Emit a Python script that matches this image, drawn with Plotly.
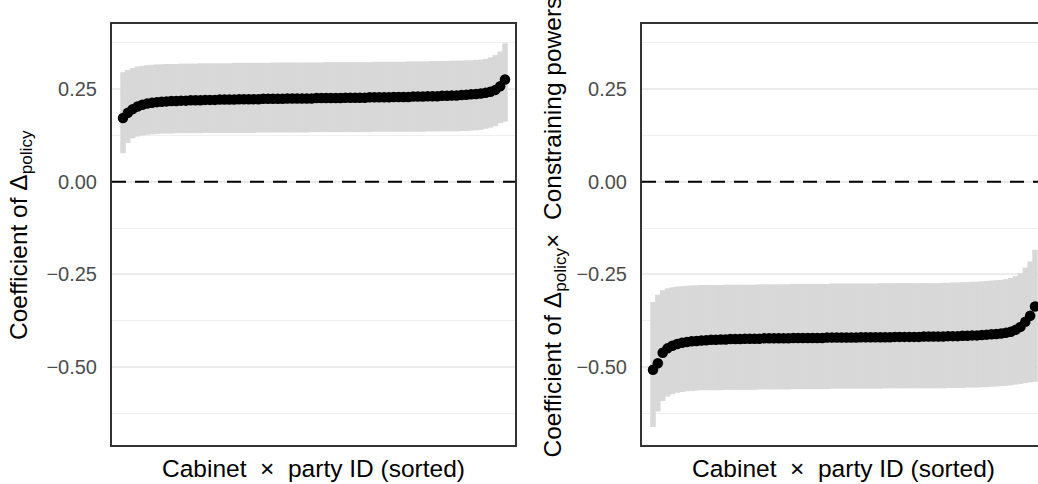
import plotly.graph_objects as go

# ---------------- data ----------------
coef_left = [0.172, 0.186, 0.196, 0.203, 0.208, 0.211, 0.213, 0.215, 0.216, 0.217,
             0.218, 0.218, 0.219, 0.219, 0.220, 0.220, 0.220, 0.221, 0.221, 0.221,
             0.222, 0.222, 0.222, 0.222, 0.223, 0.223, 0.223, 0.223, 0.223, 0.224,
             0.224, 0.224, 0.224, 0.224, 0.225, 0.225, 0.225, 0.225, 0.225, 0.225,
             0.226, 0.226, 0.226, 0.226, 0.226, 0.226, 0.227, 0.227, 0.227, 0.227,
             0.227, 0.228, 0.228, 0.228, 0.228, 0.228, 0.229, 0.229, 0.229, 0.229,
             0.230, 0.230, 0.230, 0.231, 0.231, 0.231, 0.232, 0.232, 0.233, 0.233,
             0.234, 0.235, 0.236, 0.237, 0.238, 0.240, 0.243, 0.248, 0.258, 0.276]
hi_left = [0.296, 0.302, 0.307, 0.311, 0.313, 0.315, 0.316, 0.317, 0.317, 0.318,
           0.318, 0.318, 0.319, 0.319, 0.319, 0.319, 0.320, 0.320, 0.320, 0.320,
           0.320, 0.320, 0.320, 0.321, 0.321, 0.321, 0.321, 0.321, 0.321, 0.321,
           0.321, 0.322, 0.322, 0.322, 0.322, 0.322, 0.322, 0.322, 0.322, 0.322,
           0.322, 0.322, 0.323, 0.323, 0.323, 0.323, 0.323, 0.323, 0.323, 0.323,
           0.323, 0.323, 0.324, 0.324, 0.324, 0.324, 0.324, 0.324, 0.324, 0.325,
           0.325, 0.325, 0.325, 0.325, 0.326, 0.326, 0.326, 0.326, 0.327, 0.327,
           0.327, 0.328, 0.328, 0.329, 0.330, 0.332, 0.336, 0.342, 0.352, 0.374]
lo_left = [0.077, 0.105, 0.117, 0.122, 0.125, 0.127, 0.128, 0.129, 0.130, 0.130,
           0.130, 0.131, 0.131, 0.131, 0.131, 0.131, 0.131, 0.132, 0.132, 0.132,
           0.132, 0.132, 0.132, 0.132, 0.132, 0.132, 0.132, 0.132, 0.133, 0.133,
           0.133, 0.133, 0.133, 0.133, 0.133, 0.133, 0.133, 0.133, 0.133, 0.134,
           0.134, 0.134, 0.134, 0.134, 0.134, 0.134, 0.134, 0.134, 0.134, 0.134,
           0.134, 0.134, 0.135, 0.135, 0.135, 0.135, 0.135, 0.135, 0.135, 0.135,
           0.135, 0.135, 0.135, 0.136, 0.136, 0.136, 0.136, 0.136, 0.136, 0.136,
           0.137, 0.137, 0.138, 0.139, 0.140, 0.143, 0.146, 0.150, 0.158, 0.162]

coef_right = [-0.508, -0.490, -0.462, -0.450, -0.443, -0.438, -0.435, -0.433, -0.431, -0.430,
              -0.429, -0.428, -0.427, -0.427, -0.426, -0.426, -0.425, -0.425, -0.425, -0.424,
              -0.424, -0.424, -0.424, -0.423, -0.423, -0.423, -0.423, -0.423, -0.423, -0.422,
              -0.422, -0.422, -0.422, -0.422, -0.422, -0.422, -0.421, -0.421, -0.421, -0.421,
              -0.421, -0.421, -0.421, -0.420, -0.420, -0.420, -0.420, -0.420, -0.420, -0.420,
              -0.419, -0.419, -0.419, -0.419, -0.419, -0.419, -0.418, -0.418, -0.418, -0.418,
              -0.418, -0.417, -0.417, -0.417, -0.416, -0.416, -0.415, -0.415, -0.414, -0.413,
              -0.412, -0.411, -0.410, -0.408, -0.405, -0.400, -0.392, -0.378, -0.362, -0.337]
hi_right = [-0.325, -0.305, -0.293, -0.288, -0.285, -0.283, -0.282, -0.281, -0.280, -0.280,
            -0.279, -0.279, -0.279, -0.279, -0.279, -0.278, -0.278, -0.278, -0.278, -0.278,
            -0.278, -0.278, -0.277, -0.277, -0.277, -0.277, -0.277, -0.277, -0.277, -0.276,
            -0.276, -0.276, -0.276, -0.276, -0.276, -0.276, -0.276, -0.275, -0.275, -0.275,
            -0.275, -0.275, -0.275, -0.275, -0.275, -0.275, -0.275, -0.274, -0.274, -0.274,
            -0.274, -0.274, -0.274, -0.274, -0.274, -0.274, -0.274, -0.274, -0.274, -0.274,
            -0.273, -0.273, -0.272, -0.272, -0.271, -0.271, -0.270, -0.270, -0.269, -0.268,
            -0.267, -0.266, -0.265, -0.263, -0.260, -0.255, -0.247, -0.232, -0.215, -0.184]
lo_right = [-0.662, -0.620, -0.592, -0.580, -0.574, -0.570, -0.568, -0.566, -0.565, -0.564,
            -0.563, -0.563, -0.563, -0.563, -0.563, -0.562, -0.562, -0.562, -0.562, -0.562,
            -0.562, -0.562, -0.561, -0.561, -0.561, -0.561, -0.561, -0.561, -0.561, -0.560,
            -0.560, -0.560, -0.560, -0.560, -0.560, -0.560, -0.560, -0.559, -0.559, -0.559,
            -0.559, -0.559, -0.559, -0.559, -0.559, -0.559, -0.559, -0.559, -0.558, -0.558,
            -0.558, -0.558, -0.558, -0.558, -0.558, -0.558, -0.558, -0.558, -0.558, -0.558,
            -0.558, -0.557, -0.557, -0.557, -0.557, -0.556, -0.556, -0.556, -0.555, -0.555,
            -0.554, -0.553, -0.552, -0.551, -0.550, -0.548, -0.546, -0.544, -0.542, -0.540]

y_tickvals = [-0.50, -0.25, 0.00, 0.25]
y_ticktext = ["\u22120.50", "\u22120.25", "0.00", "0.25"]
y_minor = [-0.625, -0.375, -0.125, 0.125, 0.375]

x_title = "Cabinet\u00a0\u00a0\u00d7\u00a0\u00a0party ID (sorted)"
y_title_left = "Coefficient of \u0394<sub>policy</sub>"
y_title_right = "Coefficient of \u0394<sub>policy</sub>\u00d7\u00a0\u00a0Constraining powers"

# ---------------- figure ----------------
W, H = 1038, 484
FONT = "Liberation Sans, Arial, Helvetica, sans-serif"
BAND = "#D8D8D8"

fig = go.Figure()

def add_panel(coef, lo, hi, xa, ya):
    idx = list(range(1, len(coef) + 1))
    plus = [h - c for h, c in zip(hi, coef)]
    minus = [c - l for c, l in zip(coef, lo)]
    fig.add_trace(go.Scatter(
        x=idx, y=coef, mode="markers", xaxis=xa, yaxis=ya,
        marker=dict(size=10, color="rgba(0,0,0,0)"),
        error_y=dict(type="data", array=plus, arrayminus=minus, symmetric=False,
                     color=BAND, thickness=5.5, width=0),
        showlegend=False, hoverinfo="skip"))
    fig.add_trace(go.Scatter(
        x=idx, y=coef, mode="markers", xaxis=xa, yaxis=ya,
        marker=dict(size=10.5, color="black", line=dict(width=0)),
        showlegend=False))

add_panel(coef_left, lo_left, hi_left, "x", "y")
add_panel(coef_right, lo_right, hi_right, "x2", "y2")

ydom = [1 - 445 / H, 1 - 24 / H]
yr = [-0.711, 0.426]
common_y = dict(
    range=yr, domain=ydom, tickvals=y_tickvals, ticktext=y_ticktext,
    showgrid=True, gridcolor="#EBEBEB", gridwidth=1.6, zeroline=False,
    minor=dict(tickvals=y_minor, showgrid=True, gridcolor="#EFEFEF", gridwidth=1, ticks=""),
    ticks="outside", ticklen=9, tickcolor="rgba(0,0,0,0)",
    tickfont=dict(family=FONT, size=20, color="#4D4D4D"),
    showline=True, linecolor="#333333", linewidth=2,
    fixedrange=True, automargin=False,
)
common_x = dict(
    showgrid=False, zeroline=False, showticklabels=False, ticks="",
    showline=True, linecolor="#333333", linewidth=2, mirror=True,
    fixedrange=True, automargin=False,
)

fig.update_layout(
    width=W, height=H,
    margin=dict(l=0, r=0, t=0, b=0),
    paper_bgcolor="white", plot_bgcolor="white",
    font=dict(family=FONT),
    xaxis=dict(common_x, domain=[112 / W, 515 / W], range=[-1.275, 82.07]),
    yaxis=dict(common_y, anchor="x", mirror=True),
    xaxis2=dict(common_x, domain=[642 / W, 1.0], range=[-1.275, 80.62], anchor="y2"),
    yaxis2=dict(common_y, anchor="x2", mirror=False),
)

for xr, yr_ in [("x domain", "y"), ("x2 domain", "y2")]:
    fig.add_shape(type="line", xref=xr, yref=yr_, x0=0, x1=1, y0=0, y1=0,
                  line=dict(color="black", width=2, dash="14px,9px"), layer="above")

ann_font = dict(family=FONT, size=24.5, color="black")
fig.add_annotation(text=y_title_left, xref="paper", yref="paper",
                   x=20 / W, y=1 - 235 / H, xanchor="center", yanchor="middle",
                   textangle=-90, showarrow=False, font=ann_font)
fig.add_annotation(text=y_title_right, xref="paper", yref="paper",
                   x=554 / W, y=1 - 460 / H, xanchor="center", yanchor="bottom",
                   textangle=-90, showarrow=False, font=ann_font)
fig.add_annotation(text=x_title, xref="paper", yref="paper",
                   x=313.5 / W, y=1 - 468 / H, xanchor="center", yanchor="middle",
                   showarrow=False, font=ann_font)
fig.add_annotation(text=x_title, xref="paper", yref="paper",
                   x=843.5 / W, y=1 - 468 / H, xanchor="center", yanchor="middle",
                   showarrow=False, font=ann_font)

fig.write_html("out.html",
               config={"displayModeBar": False},
               post_script="document.body.style.margin='0px';document.body.style.overflow='hidden';")
